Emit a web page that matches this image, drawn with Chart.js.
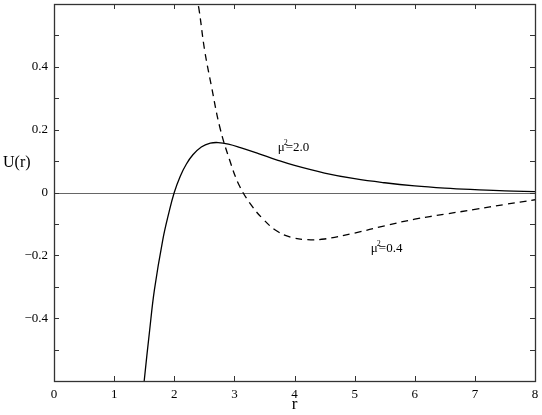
<!DOCTYPE html>
<html>
<head>
<meta charset="utf-8">
<script src="https://cdn.jsdelivr.net/npm/chart.js@4/dist/chart.umd.min.js"></script>
<style>
    html, body { margin: 0; padding: 0; background: #fff; }
    #wrap { width: 542px; height: 415px; }
</style>
</head>
<body>
<div id="wrap"><canvas id="potentialChart" width="542" height="415"></canvas></div>
<script>
// mu^2 = 2.0 (solid curve)
const rSolid = [1.45, 1.50, 1.59, 1.67, 1.81, 1.91, 2.00, 2.10, 2.20, 2.31, 2.45, 2.60, 2.73, 2.90, 3.10, 3.40, 3.70, 4.00, 4.50, 5.00, 5.50, 6.00, 6.50, 7.00, 7.50, 8.00];
const uSolid = [-0.70, -0.60, -0.44, -0.31, -0.15, -0.065, 0.00, 0.052, 0.09, 0.12, 0.145, 0.157, 0.159, 0.154, 0.143, 0.124, 0.104, 0.086, 0.062, 0.044, 0.031, 0.021, 0.014, 0.009, 0.005, 0.003];

// mu^2 = 0.4 (dashed curve)
const rDashed = [2.36, 2.41, 2.505, 2.62, 2.755, 2.92, 3.09, 3.30, 3.48, 3.70, 3.95, 4.20, 4.50, 5.00, 5.50, 6.00, 6.50, 7.00, 7.50, 8.00];
const uDashed = [0.63, 0.585, 0.453, 0.337, 0.21, 0.104, 0.019, -0.045, -0.085, -0.122, -0.143, -0.150, -0.148, -0.129, -0.106, -0.085, -0.069, -0.054, -0.038, -0.023];

const xTicks = [0, 1, 2, 3, 4, 5, 6, 7, 8];
const yLabelled = [-0.4, -0.2, 0, 0.2, 0.4];

const serif = "'Liberation Serif', 'Times New Roman', Times, serif";

function toPoints(xs, ys) {
    return xs.map((x, i) => ({ x: x, y: ys[i] }));
}

// frame, inward ticks, zero line and curve labels
const framePlugin = {
    id: 'frame',
    beforeDatasetsDraw(chart) {
        const { ctx, chartArea: a, scales: { y } } = chart;
        const y0 = Math.round(y.getPixelForValue(0)) + 0.5;
        ctx.save();
        ctx.strokeStyle = '#666';
        ctx.lineWidth = 1.2;
        ctx.beginPath();
        ctx.moveTo(a.left, y0);
        ctx.lineTo(a.right, y0);
        ctx.stroke();
        ctx.restore();
    },
    afterDraw(chart) {
        const { ctx, chartArea: a, scales: { x, y } } = chart;
        const len = 5;
        ctx.save();
        ctx.strokeStyle = '#333';
        ctx.lineWidth = 1.3;
        ctx.strokeRect(a.left + 0.5, a.top + 0.5, a.right - a.left, a.bottom - a.top);

        ctx.lineWidth = 1;
        ctx.beginPath();
        xTicks.forEach(v => {
            const px = Math.round(x.getPixelForValue(v)) + 0.5;
            ctx.moveTo(px, a.bottom);
            ctx.lineTo(px, a.bottom - len);
            ctx.moveTo(px, a.top);
            ctx.lineTo(px, a.top + len);
        });
        for (let i = -5; i <= 5; i++) {
            const py = Math.round(y.getPixelForValue(i / 10)) + 0.5;
            ctx.moveTo(a.left, py);
            ctx.lineTo(a.left + len, py);
            ctx.moveTo(a.right, py);
            ctx.lineTo(a.right - len, py);
        }
        ctx.stroke();

        // U(r) label, horizontal
        ctx.fillStyle = '#000';
        ctx.font = '16px ' + serif;
        ctx.textAlign = 'left';
        ctx.textBaseline = 'alphabetic';
        ctx.fillText('U(r)', 3, 167);

        drawMuLabel(ctx, x.getPixelForValue(3.72), y.getPixelForValue(0.132), '2.0');
        drawMuLabel(ctx, x.getPixelForValue(5.27), y.getPixelForValue(-0.19), '0.4');
        ctx.restore();
    }
};

function drawMuLabel(ctx, px, py, val) {
    ctx.font = '13px ' + serif;
    ctx.textAlign = 'left';
    ctx.textBaseline = 'alphabetic';
    ctx.fillText('\u03bc', px, py);
    const w = ctx.measureText('\u03bc').width;
    ctx.font = '8px ' + serif;
    ctx.fillText('2', px + w - 1, py - 6);
    ctx.font = '13px ' + serif;
    ctx.fillText('=' + val, px + w + 1, py);
}

const ctx = document.getElementById('potentialChart').getContext('2d');
const potentialChart = new Chart(ctx, {
    type: 'line',
    data: {
        datasets: [{
            label: 'mu2=2.0',
            data: toPoints(rSolid, uSolid),
            borderColor: '#000',
            borderWidth: 1.3,
            pointRadius: 0,
            fill: false,
            tension: 0.4
        }, {
            label: 'mu2=0.4',
            data: toPoints(rDashed, uDashed),
            borderColor: '#000',
            borderWidth: 1.3,
            borderDash: [7, 5],
            pointRadius: 0,
            fill: false,
            tension: 0.4
        }]
    },
    options: {
        responsive: false,
        animation: false,
        devicePixelRatio: 1,
        layout: {
            padding: { left: 0, right: 7, top: 4, bottom: 0 }
        },
        plugins: {
            legend: { display: false },
            tooltip: { enabled: false },
            title: { display: false }
        },
        scales: {
            x: {
                type: 'linear',
                min: 0,
                max: 8,
                grid: { display: false, drawTicks: false },
                border: { display: false },
                ticks: {
                    stepSize: 1,
                    padding: 6,
                    color: '#000',
                    maxRotation: 0,
                    font: { family: serif, size: 13 }
                },
                title: {
                    display: true,
                    text: 'r',
                    color: '#000',
                    padding: { top: 0, bottom: 0 },
                    font: { family: serif, size: 17 }
                },
                afterFit(scale) {
                    scale.height = 34;
                    scale.paddingLeft = 0;
                    scale.paddingRight = 0;
                }
            },
            y: {
                type: 'linear',
                min: -0.6,
                max: 0.6,
                grid: { display: false, drawTicks: false },
                border: { display: false },
                ticks: {
                    stepSize: 0.1,
                    padding: 6,
                    color: '#000',
                    font: { family: serif, size: 13 },
                    callback: function (value) {
                        const v = Math.round(value * 10) / 10;
                        if (!yLabelled.some(t => Math.abs(t - v) < 1e-9)) return '';
                        if (v === 0) return '0';
                        return (v < 0 ? '\u2212' : '') + Math.abs(v).toFixed(1);
                    }
                },
                afterFit(scale) {
                    scale.width = 54;
                    scale.paddingTop = 0;
                    scale.paddingBottom = 0;
                }
            }
        }
    },
    plugins: [framePlugin]
});
</script>
</body>
</html>
